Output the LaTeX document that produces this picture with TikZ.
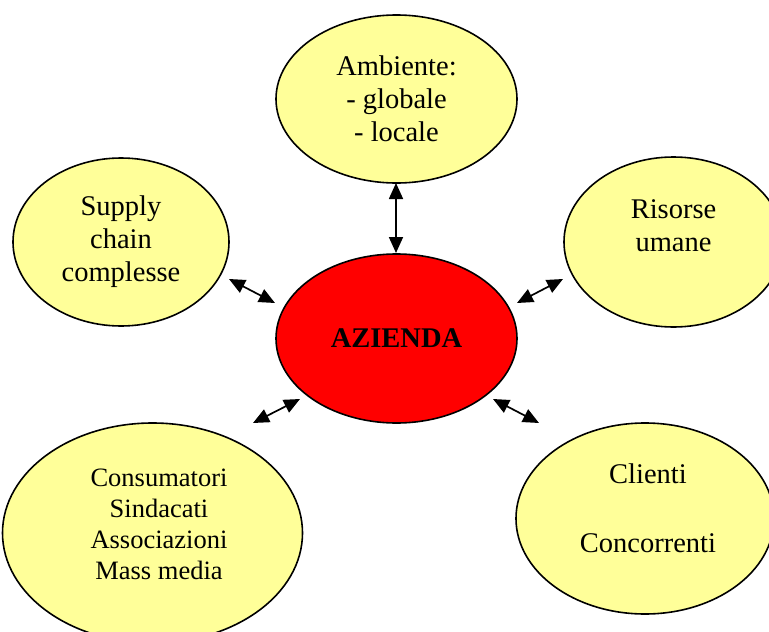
\documentclass[tikz,border=0pt]{standalone}
\usepackage{fontspec}
\setmainfont{Liberation Serif}
\usetikzlibrary{arrows.meta,shapes.geometric}
\definecolor{paleyellow}{HTML}{FFFF99}
\definecolor{aziendared}{HTML}{FF0000}
\tikzstyle{mymapstyle}=[
    x=1pt, y=-1pt,
    >={Triangle[length=16pt,width=14pt]},
    every node/.style={
        align=center,
        font=\fontsize{28.5}{33}\selectfont,
    },
]
\tikzstyle{bubble}=[ellipse, draw, line width=1.6pt, fill=paleyellow, inner sep=0pt]
\tikzstyle{link}=[<->, line width=1.7pt]

\begin{document}
\begin{tikzpicture}[mymapstyle]
        \useasboundingbox (0,0) rectangle (769,632);
        \clip (0,0) rectangle (769,632);
        % the bubbles
        \node[bubble, minimum width=241pt, minimum height=168pt] (ambiente) at (396.5,99) {Ambiente:\\- globale\\- locale};
        \node[bubble, minimum width=216pt, minimum height=168pt] (supply) at (121,242) {Supply\\chain\\complesse};
        \node[bubble, minimum width=219pt, minimum height=170pt] (risorse) at (673.5,242) {};
        \node[bubble, minimum width=300pt, minimum height=220pt] (consumatori) at (152.5,533) {};
        \node[bubble, minimum width=258pt, minimum height=191pt] (clienti) at (645,518.5) {};
        \node[bubble, fill=aziendared, minimum width=241pt, minimum height=169pt,
              font=\fontsize{28.5}{33}\selectfont\bfseries] (azienda) at (396.5,338.5) {AZIENDA};
        % texts placed off centre
        \node (risorsetext) at ([yshift=16.5pt]risorse.center) {Risorse\\umane};
        \node (clientitext) at ([xshift=3pt, yshift=10.5pt]clienti.center) {Clienti\\[36pt]Concorrenti};
        \node[font=\fontsize{26.5}{31}\selectfont] (consumatoritext) at ([xshift=6.5pt, yshift=9pt]consumatori.center)
            {Consumatori\\Sindacati\\Associazioni\\Mass media};
        % arrows
        \coordinate (ambientelink) at (396,183);
        \coordinate (aziendatop) at (396,253);
        \coordinate (supplylink) at (229,279);
        \coordinate (aziendaleft) at (275,303);
        \coordinate (aziendaright) at (517,303);
        \coordinate (risorselink) at (563,279);
        \coordinate (consumatorilink) at (253,423);
        \coordinate (aziendalowleft) at (300,399);
        \coordinate (aziendalowright) at (493,399);
        \coordinate (clientilink) at (539,423);
        \draw[link] (ambientelink) -- (aziendatop);
        \draw[link] (supplylink) -- (aziendaleft);
        \draw[link] (aziendaright) -- (risorselink);
        \draw[link] (consumatorilink) -- (aziendalowleft);
        \draw[link] (aziendalowright) -- (clientilink);
    \end{tikzpicture}
\end{document}
